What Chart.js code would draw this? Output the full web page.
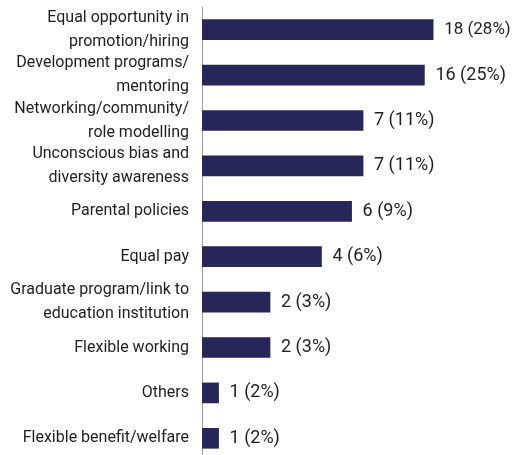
<!DOCTYPE html>
<html>
<head>
<meta charset="utf-8">
<script src="https://cdn.jsdelivr.net/npm/chart.js@4/dist/chart.umd.min.js"></script>
<style>
  html, body { margin: 0; padding: 0; background: #fff; overflow: hidden; }
  #wrap { width: 513px; height: 461px; position: relative; }
</style>
</head>
<body>
<div id="wrap"><canvas id="main-chart"></canvas></div>
<script>
//data
const categories = [
  ['Equal opportunity in', 'promotion/hiring'],
  ['Development programs/', 'mentoring'],
  ['Networking/community/', 'role modelling'],
  ['Unconscious bias and', 'diversity awareness'],
  'Parental policies',
  'Equal pay',
  ['Graduate program/link to', 'education institution'],
  'Flexible working',
  'Others',
  'Flexible benefit/welfare'
];
const counts = [18, 16, 7, 7, 6, 4, 2, 2, 1, 1];
const percents = [28, 25, 11, 11, 9, 6, 3, 3, 2, 2];

//labels at the end of each bar, e.g. "18 (28%)"
const valueLabels = {
  id: 'valueLabels',
  afterDatasetsDraw(chart) {
    const ctx = chart.ctx;
    const meta = chart.getDatasetMeta(0);
    ctx.save();
    ctx.fillStyle = '#1e1e1e';
    ctx.textBaseline = 'middle';
    ctx.textAlign = 'left';
    meta.data.forEach((bar, i) => {
      const text = counts[i] + ' (' + percents[i] + '%)';
      const x = bar.x + 11;
      let size = 18;
      ctx.font = size + 'px Roboto';
      //shrink the text if it would run off the canvas
      while (size > 10 && x + ctx.measureText(text).width > chart.width - 1) {
        size -= 0.5;
        ctx.font = size + 'px Roboto';
      }
      ctx.fillText(text, x, bar.y);
    });
    ctx.restore();
  }
};

const chart_elem = document.getElementById('main-chart');
const main_chart = new Chart(chart_elem, {
  type: 'bar',
  data: {
    labels: categories,
    datasets: [{
      data: counts,
      backgroundColor: '#262659',
      barThickness: 20
    }]
  },
  options: {
    indexAxis: 'y',
    responsive: true,
    maintainAspectRatio: false,
    animation: false,
    layout: { padding: { top: 7, right: 4, left: 0, bottom: 0 } },
    scales: {
      x: {
        type: 'logarithmic',
        min: 0.8,
        max: 50,
        display: false
      },
      y: {
        grid: { display: false, drawTicks: false },
        border: { display: true, color: '#a0a0a0', width: 1 },
        ticks: {
          autoSkip: false,
          padding: 13,
          color: '#1e1e1e',
          font: { family: 'Roboto', size: 16, lineHeight: 1.5 }
        },
        afterFit(scale) {
          //fixed axis width, and no extra room for the tall first/last labels
          scale.width = 202;
          scale.paddingTop = 0;
          scale.paddingBottom = 0;
        }
      }
    },
    plugins: {
      legend: { display: false },
      tooltip: { enabled: false }
    }
  },
  plugins: [valueLabels]
});
</script>
</body>
</html>
